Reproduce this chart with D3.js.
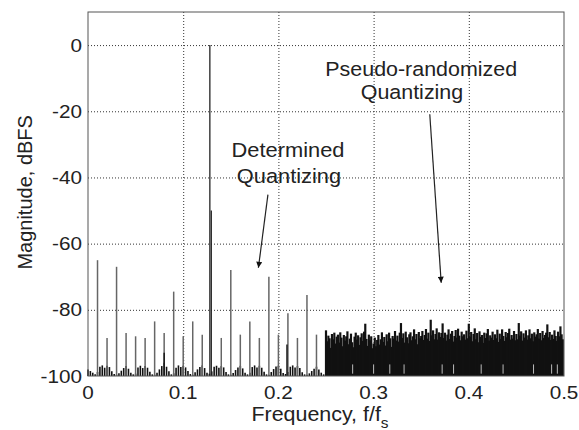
<!DOCTYPE html>
<html>
<head>
<meta charset="utf-8">
<script src="https://cdn.jsdelivr.net/npm/d3@7"></script>
<style>
  body { margin: 0; background: #fff; }
  text { font-family: "Liberation Sans", Arial, sans-serif; fill: #222; }
</style>
</head>
<body>
<div id="chart"></div>
<script>
// tick values
var xTicks = [0, 0.1, 0.2, 0.3, 0.4, 0.5];
var yTicks = [-100, -80, -60, -40, -20, 0];

// carrier and the tone right next to it
var toneF = [0.128, 0.1295];
var toneDb = [0, -50];

// harmonic / spur lines in the determined region (grey)
var spurF  = [0.01, 0.02, 0.03, 0.04, 0.05, 0.06, 0.07, 0.08, 0.09, 0.10, 0.11, 0.12,
              0.14, 0.15, 0.16, 0.17, 0.18, 0.19, 0.20, 0.21, 0.22, 0.23, 0.24];
var spurDb = [-65, -88.5, -67, -87, -88, -88.5, -83.5, -87, -74.5, -88, -83.5, -87.5,
              -88.5, -68, -87.5, -83.5, -88.5, -70, -87.5, -81, -88.5, -75.5, -87.5];

// short black spurs
var smallF  = [0.08, 0.209];
var smallDb = [-93, -90.5];

// low level floor under the determined region, 0 .. 0.2475 step 0.0025
var floorStart = 0, floorStep = 0.0025;
var floorDb = [
  -98.0, -98.5, -99.0, -99.5, -98.8, -97.2, -96.8, -97.5, -96.9, -97.3,
  -98.6, -99.4, -99.6, -99.2, -98.4, -97.6, -97.0, -97.8, -99.0, -99.5,
  -99.3, -97.4, -96.9, -97.6, -97.0, -97.5, -98.7, -99.5, -99.6, -99.0,
  -98.0, -97.0, -96.0, -97.2, -98.6, -99.5, -99.2, -97.5, -96.8, -97.3,
  -96.9, -97.4, -98.5, -99.4, -99.6, -98.9, -98.0, -97.3, -96.8, -97.6,
  -99.0, -99.3, -98.6, -97.2, -96.9, -97.5, -97.0, -97.4, -98.8, -99.5,
  -99.6, -99.1, -98.2, -97.4, -96.9, -97.7, -99.0, -99.5, -99.0, -97.3,
  -96.8, -97.4, -96.9, -97.5, -98.7, -99.5, -99.6, -98.8, -97.9, -97.1,
  -96.9, -97.8, -99.1, -99.4, -98.8, -97.2, -96.8, -97.4, -97.0, -97.6,
  -98.9, -99.5, -99.6, -99.2, -98.5, -97.8, -97.2, -98.0, -99.0, -99.5
];

// pseudo-randomized noise, 0.25 .. 0.49875 step 0.00125
var noiseStart = 0.25, noiseStep = 0.00125;
var noiseDb = [
  -86.2, -89.5, -87.8, -88.6, -91.5, -87.3, -88.9, -86.9, -90.2, -88.1, -87.5, -89.9, -86.8, -88.4, -91.0, -87.6, -89.3, -88.0, -86.5, -90.4,
  -88.7, -87.2, -89.8, -91.3, -88.1, -86.9, -89.0, -87.7, -90.6, -88.3, -87.1, -89.4, -86.6, -84.2, -88.8, -90.9, -87.5, -89.2, -88.0, -91.6,
  -90.2, -88.4, -91.0, -89.1, -87.6, -90.5, -88.9, -86.8, -89.7, -88.2, -90.8, -87.4, -89.5, -86.9, -88.6, -91.2, -87.9, -88.7, -86.4, -89.3,
  -87.8, -89.6, -86.9, -84.0, -88.5, -87.1, -89.9, -86.6, -88.3, -90.1, -87.4, -86.8, -89.2, -88.0, -85.9, -88.9, -87.3, -90.4, -86.7, -88.6,
  -87.9, -86.4, -89.1, -87.6, -85.8, -88.7, -86.9, -89.4, -83.0, -87.7, -86.2, -88.9, -87.3, -85.6, -89.0, -86.8, -88.2, -87.0, -84.1, -88.5,
  -86.9, -89.3, -87.5, -85.9, -88.8, -87.2, -86.4, -89.6, -87.9, -86.1, -88.4, -85.7, -87.8, -89.2, -86.6, -88.0, -87.4, -89.0, -86.3, -88.6,
  -84.2, -88.1, -86.7, -89.5, -87.3, -85.6, -88.9, -87.0, -89.8, -86.5, -88.2, -87.6, -90.0, -86.9, -88.5, -87.1, -85.8, -89.3, -87.7, -88.4,
  -86.6, -89.1, -87.4, -88.6, -86.0, -89.7, -87.2, -88.8, -85.9, -87.9, -89.4, -86.7, -88.3, -87.0, -85.7, -89.0, -87.6, -88.7, -86.4, -89.2,
  -87.3, -88.9, -84.0, -87.8, -86.5, -89.3, -87.1, -88.4, -86.2, -89.0, -87.7, -85.9, -88.6, -87.2, -89.5, -86.8, -88.1, -87.4, -85.8, -88.7,
  -87.0, -89.2, -86.4, -88.5, -87.6, -86.9, -84.4, -88.3, -86.7, -89.1, -87.5, -88.8, -86.2, -87.9, -89.4, -86.6, -88.0, -85.0, -87.4, -88.9
];

// light slivers near the bottom of the noise band
var gapF = [0.278, 0.300, 0.317, 0.332, 0.372, 0.384, 0.413, 0.436, 0.468, 0.487, 0.493];
var gapDb = -96.5;

var W = 579, H = 430;
var margin = {top: 12, right: 15, bottom: 54, left: 88},
    width = W - margin.left - margin.right,
    height = H - margin.top - margin.bottom;

var svg = d3.select("#chart")
  .append("svg")
    .attr("width", W)
    .attr("height", H)
  .append("g")
    .attr("transform", `translate(${margin.left},${margin.top})`);

var x = d3.scaleLinear().domain([0, 0.5]).range([0, width]);
var y = d3.scaleLinear().domain([-100, 10]).range([height, 0]);

// dotted grid
svg.append("g")
  .attr("class", "grid")
  .attr("transform", `translate(0,${height})`)
  .call(d3.axisBottom(x).tickValues(xTicks.slice(1, -1)).tickSize(-height).tickFormat(""))
  .call(g => g.select(".domain").remove());
svg.append("g")
  .attr("class", "grid")
  .call(d3.axisLeft(y).tickValues(yTicks.slice(1)).tickSize(-width).tickFormat(""))
  .call(g => g.select(".domain").remove());
svg.selectAll(".grid line")
  .attr("stroke", "#333")
  .attr("stroke-width", 1)
  .attr("stroke-dasharray", "1,2");

// floor
svg.append("g")
  .selectAll("line")
  .data(floorDb)
  .join("line")
    .attr("x1", (d, i) => x(floorStart + i * floorStep))
    .attr("x2", (d, i) => x(floorStart + i * floorStep))
    .attr("y1", y(-100))
    .attr("y2", d => y(d))
    .attr("stroke", "#111")
    .attr("stroke-width", 1.6);

// noise band
svg.append("g")
  .selectAll("line")
  .data(noiseDb)
  .join("line")
    .attr("x1", (d, i) => x(noiseStart + i * noiseStep))
    .attr("x2", (d, i) => x(noiseStart + i * noiseStep))
    .attr("y1", y(-100))
    .attr("y2", d => y(d))
    .attr("stroke", "#111")
    .attr("stroke-width", 2.2);

svg.append("g")
  .selectAll("line")
  .data(gapF)
  .join("line")
    .attr("x1", d => x(d))
    .attr("x2", d => x(d))
    .attr("y1", y(-99.3))
    .attr("y2", y(gapDb))
    .attr("stroke", "#bbb")
    .attr("stroke-width", 1);

// spurs
svg.append("g")
  .selectAll("line")
  .data(spurF)
  .join("line")
    .attr("x1", d => x(d))
    .attr("x2", d => x(d))
    .attr("y1", y(-100))
    .attr("y2", (d, i) => y(spurDb[i]))
    .attr("stroke", "#666")
    .attr("stroke-width", 1.5);

svg.append("g")
  .selectAll("line")
  .data(smallF)
  .join("line")
    .attr("x1", d => x(d))
    .attr("x2", d => x(d))
    .attr("y1", y(-100))
    .attr("y2", (d, i) => y(smallDb[i]))
    .attr("stroke", "#111")
    .attr("stroke-width", 1.4);

svg.append("g")
  .selectAll("line")
  .data(toneF)
  .join("line")
    .attr("x1", d => x(d))
    .attr("x2", d => x(d))
    .attr("y1", y(-100))
    .attr("y2", (d, i) => y(toneDb[i]))
    .attr("stroke", "#222")
    .attr("stroke-width", 1.3);

// frame
svg.append("rect")
  .attr("width", width)
  .attr("height", height)
  .attr("fill", "none")
  .attr("stroke", "#555")
  .attr("stroke-width", 1);

// stretched text helper (the figure's lettering is a bit wide)
function label(g, px, py, str, size, sx, anchor) {
  return g.append("text")
    .attr("transform", `translate(${px},${py}) scale(${sx},1)`)
    .attr("text-anchor", anchor || "middle")
    .style("font-size", size + "px")
    .text(str);
}

// tick labels
xTicks.forEach(t => label(svg, x(t), height + 23, d3.format("")(t), 18, 1.15));
yTicks.forEach(t => label(svg, -6, y(t) + 6.5, String(t), 18, 1.15, "end"));

// axis titles
svg.append("text")
  .attr("transform", `translate(${32 - margin.left},${y(-44.5)}) rotate(-90)`)
  .attr("text-anchor", "middle")
  .style("font-size", "20px")
  .text("Magnitude, dBFS");

var xt = svg.append("text")
  .attr("transform", `translate(${x(0.25) - 6},${height + 45}) scale(1.1,1)`)
  .attr("text-anchor", "middle")
  .style("font-size", "19.5px");
xt.append("tspan").text("Frequency, f/f");
xt.append("tspan").attr("dy", 7).style("font-size", "14px").text("s");

// annotations
label(svg, x(0.2101), y(-33.8), "Determined", 19.5, 1.12);
label(svg, x(0.2111), y(-41.7), "Quantizing", 19.5, 1.12);
label(svg, x(0.35), y(-9.3), "Pseudo-randomized", 19.5, 1.1);
label(svg, x(0.3403), y(-16.3), "Quantizing", 19.5, 1.1);

svg.append("defs").append("marker")
    .attr("id", "arr")
    .attr("viewBox", "0 0 10 10")
    .attr("refX", 10)
    .attr("refY", 5)
    .attr("markerWidth", 7)
    .attr("markerHeight", 6)
    .attr("markerUnits", "userSpaceOnUse")
    .attr("orient", "auto")
  .append("path")
    .attr("d", "M0,0L10,5L0,10z")
    .attr("fill", "#111");

var arrows = [
  {f1: 0.189, d1: -45.2, f2: 0.179, d2: -67.3},
  {f1: 0.359, d1: -20.9, f2: 0.371, d2: -71.8}
];
svg.append("g")
  .selectAll("line")
  .data(arrows)
  .join("line")
    .attr("x1", d => x(d.f1))
    .attr("y1", d => y(d.d1))
    .attr("x2", d => x(d.f2))
    .attr("y2", d => y(d.d2))
    .attr("stroke", "#222")
    .attr("stroke-width", 1.2)
    .attr("marker-end", "url(#arr)");
</script>
</body>
</html>
